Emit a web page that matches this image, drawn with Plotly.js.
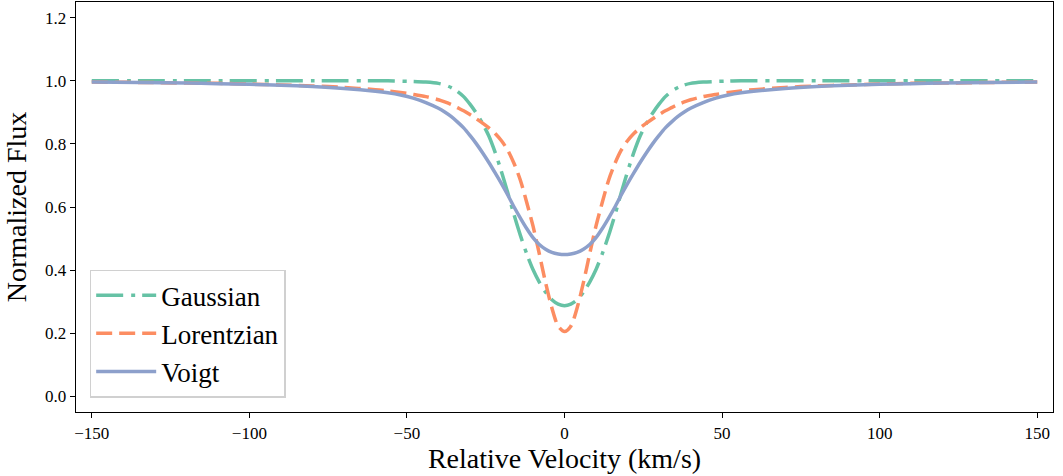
<!DOCTYPE html>
<html>
<head>
<meta charset="utf-8">
<script src="https://cdn.plot.ly/plotly-3.0.1.min.js"></script>
<style>
html, body { margin: 0; padding: 0; background: #fff; }
#chart { width: 1063px; height: 476px; }
</style>
</head>
<body>
<div id="chart"></div>
<script>
// Relative velocity (km/s)
var velocity = [-150, -135, -120, -110, -100, -90, -80, -70, -60, -56, -52, -48, -44, -40, -38, -36, -34, -32, -30, -28, -26, -24, -22, -20, -18, -16, -14, -12, -10, -8, -6, -4, -2, 0,
                2, 4, 6, 8, 10, 12, 14, 16, 18, 20, 22, 24, 26, 28, 30, 32, 34, 36, 38, 40, 44, 48, 52, 56, 60, 70, 80, 90, 100, 110, 120, 135, 150];

// Normalized flux
var gaussianFlux = [1.000, 1.000, 1.000, 1.000, 1.000, 1.000, 1.000, 1.000, 1.000, 1.000, 0.999, 0.998, 0.996, 0.992, 0.987, 0.979, 0.967, 0.950, 0.926, 0.898, 0.865, 0.825, 0.773, 0.712, 0.645, 0.575, 0.510, 0.452, 0.402, 0.362, 0.330, 0.306, 0.292, 0.287,
                    0.292, 0.306, 0.330, 0.362, 0.402, 0.452, 0.510, 0.575, 0.645, 0.712, 0.773, 0.825, 0.865, 0.898, 0.926, 0.950, 0.967, 0.979, 0.987, 0.992, 0.996, 0.998, 0.999, 1.000, 1.000, 1.000, 1.000, 1.000, 1.000, 1.000, 1.000, 1.000, 1.000];

var lorentzianFlux = [0.996, 0.995, 0.993, 0.992, 0.990, 0.987, 0.984, 0.979, 0.972, 0.968, 0.963, 0.957, 0.950, 0.940, 0.933, 0.925, 0.915, 0.905, 0.893, 0.880, 0.866, 0.851, 0.833, 0.810, 0.780, 0.738, 0.685, 0.615, 0.540, 0.452, 0.360, 0.280, 0.222, 0.205,
                      0.222, 0.280, 0.360, 0.452, 0.540, 0.615, 0.685, 0.738, 0.780, 0.810, 0.833, 0.851, 0.866, 0.880, 0.893, 0.905, 0.915, 0.925, 0.933, 0.940, 0.950, 0.957, 0.963, 0.968, 0.972, 0.979, 0.984, 0.987, 0.990, 0.992, 0.993, 0.995, 0.996];

var voigtFlux = [0.996, 0.995, 0.993, 0.991, 0.989, 0.986, 0.982, 0.976, 0.967, 0.962, 0.955, 0.945, 0.931, 0.913, 0.901, 0.887, 0.870, 0.851, 0.827, 0.801, 0.772, 0.741, 0.708, 0.674, 0.638, 0.600, 0.565, 0.532, 0.503, 0.481, 0.466, 0.456, 0.451, 0.449,
                 0.451, 0.456, 0.466, 0.481, 0.503, 0.532, 0.565, 0.600, 0.638, 0.674, 0.708, 0.741, 0.772, 0.801, 0.827, 0.851, 0.870, 0.887, 0.901, 0.913, 0.931, 0.945, 0.955, 0.962, 0.967, 0.976, 0.982, 0.986, 0.989, 0.991, 0.993, 0.995, 0.996];

var seriesNames = ["Gaussian", "Lorentzian", "Voigt"];
var xTicks = [-150, -100, -50, 0, 50, 100, 150];
var yTicks = [0.0, 0.2, 0.4, 0.6, 0.8, 1.0, 1.2];

var serif = '"Liberation Serif", "Times New Roman", "DejaVu Serif", serif';

var traces = [
  {x: velocity, y: gaussianFlux, name: seriesNames[0], type: 'scatter', mode: 'lines',
   line: {color: '#66c2a5', width: 3.5, dash: '27px,8px,4px,7px', shape: 'spline', smoothing: 0.8}},
  {x: velocity, y: lorentzianFlux, name: seriesNames[1], type: 'scatter', mode: 'lines',
   line: {color: '#fc8d62', width: 3.5, dash: '16px,7px', shape: 'spline', smoothing: 0.8}},
  {x: velocity, y: voigtFlux, name: seriesNames[2], type: 'scatter', mode: 'lines',
   line: {color: '#8da0cb', width: 3.5, shape: 'spline', smoothing: 0.8}}
];

var layout = {
  width: 1063, height: 476,
  margin: {l: 76, r: 10, t: 2, b: 64},
  paper_bgcolor: '#ffffff', plot_bgcolor: '#ffffff',
  font: {family: serif, color: '#000000', size: 17},
  showlegend: true,
  legend: {
    x: 0.014, y: 0.035, xanchor: 'left', yanchor: 'bottom',
    bgcolor: 'rgba(255,255,255,0.8)', bordercolor: '#d0d0d0', borderwidth: 1.5,
    font: {family: serif, size: 27, color: '#000000'},
    tracegroupgap: 0, itemwidth: 60
  },
  xaxis: {
    range: [-155, 155], tickvals: xTicks, ticks: 'outside', ticklen: 5, tickwidth: 1, tickcolor: '#000',
    showline: true, mirror: true, linecolor: '#000', linewidth: 1.3,
    showgrid: false, zeroline: false,
    tickfont: {family: serif, size: 17, color: '#000'},
    title: {text: 'Relative Velocity (km/s)', font: {family: serif, size: 28, color: '#000'}, standoff: 6}
  },
  yaxis: {
    range: [-0.05, 1.25], tickvals: yTicks, tickformat: '.1f', ticks: 'outside', ticklen: 5, tickwidth: 1, tickcolor: '#000',
    showline: true, mirror: true, linecolor: '#000', linewidth: 1.3,
    showgrid: false, zeroline: false,
    tickfont: {family: serif, size: 17, color: '#000'},
    title: {text: 'Normalized Flux', font: {family: serif, size: 28, color: '#000'}, standoff: 10}
  }
};

traces.forEach(function (t, i) { t.legendgroup = 'g' + i; });

Plotly.newPlot('chart', traces, layout, {displayModeBar: false, staticPlot: true});
</script>
</body>
</html>
